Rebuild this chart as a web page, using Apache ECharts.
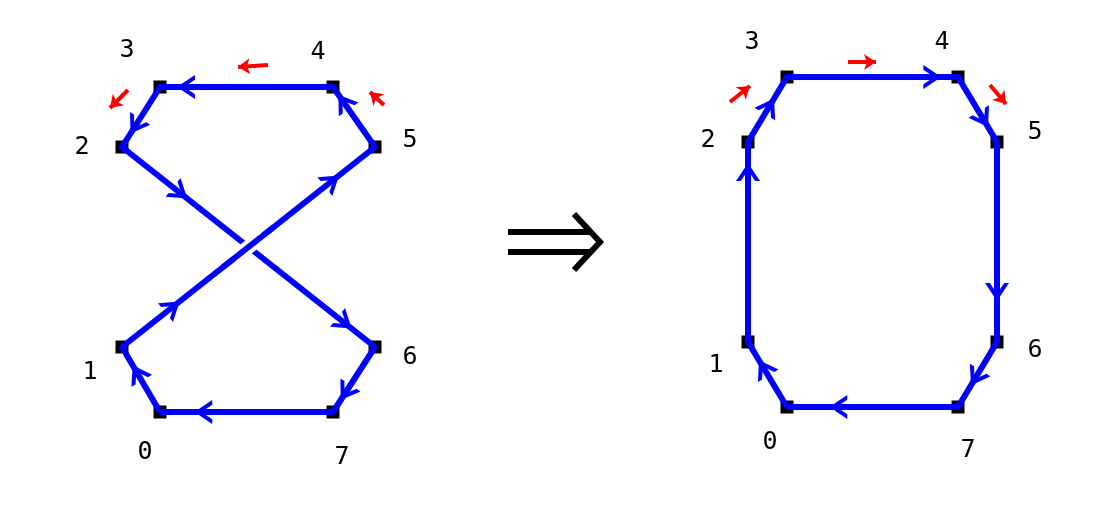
<!DOCTYPE html>
<html>
<head>
<meta charset="utf-8">
<script src="https://cdn.jsdelivr.net/npm/echarts@6/dist/echarts.min.js"></script>
<style>html,body{margin:0;background:#fff}#c{width:1104px;height:518px}</style>
</head>
<body>
<div id="c"></div>
<script>
// node positions (pixel-like units), labels and label positions
var leftNodes = [[160,412],[122,347],[122,147],[160,87],[333,87],[375,147],[375,347],[333,412]]
var rightNodes = [[787,407],[748,342],[748,142],[787,77],[958,77],[997,142],[997,342],[958,407]]
var leftLabels = [[145,452],[90,372],[82,147],[127,50],[318,52],[410,140],[410,357],[342,457]]
var rightLabels = [[770,442],[716,365],[708,140],[752,42],[942,42],[1035,132],[1035,350],[968,450]]
var leftOrder = [0,1,5,4,3,2,6,7,0]
var rightOrder = [0,1,2,3,4,5,6,7,0]
// arrowheads: [from, to, fraction along edge]
var leftArrows = [[0,1,0.6],[1,5,0.2],[1,5,0.83],[5,4,0.75],[4,3,0.85],[3,2,0.65],[2,6,0.23],[2,6,0.88],[6,7,0.7],[7,0,0.75]]
var rightArrows = [[1,2,0.85],[2,3,0.55],[3,4,0.85],[4,5,0.65],[5,6,0.75],[6,7,0.55],[7,0,0.7],[0,1,0.6]]
// small red arrows: [x1,y1,x2,y2]
var redArrows = [[268,65,238,67],[128,90,110,108],[384,105,370,92],
                 [730,102,750,86],[848,62,876,62],[990,85,1006,104]]

var chev = 'path://M0,10 L5,0 L10,10 L8,10 L5,4 L2,10 Z'

function pathPts(nodes, order) { return order.map(function (i) { return nodes[i] }) }
function arrowPts(nodes, arrows) {
  return arrows.map(function (a) {
    var p = nodes[a[0]], q = nodes[a[1]], t = a[2]
    var dx = q[0] - p[0], dy = q[1] - p[1]
    var ang = Math.atan2(-dy, dx) * 180 / Math.PI // screen y points down
    return { value: [p[0] + dx * t, p[1] + dy * t], symbolRotate: ang - 90 }
  })
}
function labelPts(pos) { return pos.map(function (p, i) { return { value: p, name: String(i) } }) }
function seg(nodes, a, b, t0, t1) {
  var p = nodes[a], q = nodes[b]
  return [[p[0] + (q[0]-p[0])*t0, p[1] + (q[1]-p[1])*t0], [p[0] + (q[0]-p[0])*t1, p[1] + (q[1]-p[1])*t1]]
}

var blue = '#0000ff'
var lineBase = { type: 'line', showSymbol: false, symbol: 'none', silent: true, animation: false }
var series = []
;[leftNodes, rightNodes].forEach(function (n) {
  series.push({ type: 'scatter', symbol: 'rect', symbolSize: 13, data: n, itemStyle: { color: '#000', opacity: 1 }, z: 1, animation: false })
})
series.push(Object.assign({}, lineBase, { data: pathPts(leftNodes, leftOrder), lineStyle: { color: blue, width: 6, join: 'round' }, z: 2 }))
series.push(Object.assign({}, lineBase, { data: seg(leftNodes, 1, 5, 0.44, 0.56), lineStyle: { color: '#fff', width: 14 }, z: 3 }))
series.push(Object.assign({}, lineBase, { data: seg(leftNodes, 1, 5, 0.40, 0.60), lineStyle: { color: blue, width: 6 }, z: 4 }))
series.push(Object.assign({}, lineBase, { data: pathPts(rightNodes, rightOrder), lineStyle: { color: blue, width: 6, join: 'round' }, z: 2 }))
series.push({ type: 'scatter', symbol: chev, symbolSize: [24, 18], data: arrowPts(leftNodes, leftArrows).concat(arrowPts(rightNodes, rightArrows)), itemStyle: { color: blue, opacity: 1 }, z: 5, animation: false })
series.push({
  type: 'lines', coordinateSystem: 'cartesian2d', z: 6, animation: false,
  symbol: ['none', 'arrow'], symbolSize: 12,
  lineStyle: { color: '#ff0000', width: 4, opacity: 1 },
  data: redArrows.map(function (r) { return { coords: [[r[0], r[1]], [r[2], r[3]]] } })
})
series.push({
  type: 'scatter', symbolSize: 0, animation: false, z: 7,
  data: labelPts(leftLabels).concat(labelPts(rightLabels)),
  itemStyle: { opacity: 1 },
  label: { show: true, formatter: '{b}', position: 'inside', color: '#000', fontSize: 25, fontFamily: 'DejaVu Sans Mono', textBorderWidth: 0 }
})

var myChart = echarts.init(document.getElementById('c'))
myChart.setOption({
  backgroundColor: '#fff',
  grid: { left: 0, right: 0, top: 0, bottom: 0 },
  xAxis: { type: 'value', min: 0, max: 1104, show: false },
  yAxis: { type: 'value', min: 0, max: 518, inverse: true, show: false },
  graphic: [
    { type: 'line', shape: { x1: 508, y1: 232, x2: 590, y2: 232 }, style: { stroke: '#000', lineWidth: 6 } },
    { type: 'line', shape: { x1: 508, y1: 252, x2: 590, y2: 252 }, style: { stroke: '#000', lineWidth: 6 } },
    { type: 'polyline', shape: { points: [[574, 214], [600, 242], [574, 270]] }, style: { stroke: '#000', lineWidth: 6, fill: 'none' } }
  ],
  series: series
})
</script>
</body>
</html>
